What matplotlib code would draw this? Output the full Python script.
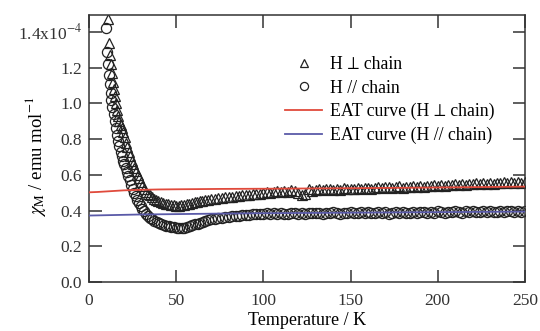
import matplotlib
matplotlib.use("Agg")
import matplotlib.pyplot as plt

plt.rcParams['font.family'] = ['Liberation Serif', 'STIXGeneral', 'DejaVu Serif']
plt.rcParams['mathtext.fontset'] = 'stix'

# H perpendicular to chain (triangles), low temperature part
T_perp_low = [11.0, 11.6, 12.1, 12.6, 13.1, 13.6, 14.2, 14.8, 15.4, 16.0,
              16.7, 17.4, 18.1, 18.8, 19.6, 20.4, 21.2, 22.0, 22.8, 23.6,
              24.4, 25.2, 26.0, 26.9, 27.8, 28.7, 29.6, 30.6, 31.6, 32.6,
              33.7, 34.8, 36.0, 37.2, 38.5, 39.8, 41.2, 42.6, 44.0, 45.5,
              47.0, 48.5, 50.0, 51.5, 53.0, 54.5, 56.0, 57.5, 59.0, 60.5,
              62.0, 63.5, 65.0, 66.5, 68.0, 70, 72, 74, 76, 78,
              80, 82, 84, 86, 88, 90, 92, 94, 96, 98, 100]
chi_perp_low = [1.47, 1.34, 1.27, 1.22, 1.17, 1.12, 1.08, 1.04, 1.00, 0.96,
                0.93, 0.90, 0.88, 0.86, 0.84, 0.81, 0.78, 0.755, 0.73, 0.705,
                0.68, 0.66, 0.64, 0.62, 0.60, 0.58, 0.56, 0.54, 0.52, 0.505,
                0.495, 0.485, 0.475, 0.467, 0.46, 0.453, 0.447, 0.442, 0.438, 0.434,
                0.431, 0.429, 0.428, 0.428, 0.43, 0.432, 0.435, 0.438, 0.442, 0.446,
                0.449, 0.452, 0.455, 0.458, 0.461, 0.464, 0.467, 0.47, 0.472, 0.474,
                0.476, 0.478, 0.48, 0.482, 0.485, 0.487, 0.489, 0.491, 0.493, 0.495, 0.497]

# H parallel to chain (circles), low temperature part
T_par_low = [9.8, 10.3, 10.8, 11.3, 11.8, 12.3, 12.8, 13.4, 14.0, 14.6,
             15.3, 16.0, 16.7, 17.4, 18.1, 18.8, 19.5, 20.2, 21.0, 21.8,
             22.6, 23.4, 24.2, 25.0, 25.9, 26.8, 27.7, 28.6, 29.6, 30.6,
             31.6, 32.7, 33.8, 35.0, 36.2, 37.4, 38.7, 40.0, 41.4, 42.8,
             44.2, 45.7, 47.2, 48.7, 50.2, 51.7, 53.2, 54.7, 56.2, 57.7,
             59.2, 60.7, 62.2, 63.7, 65.2, 66.7, 68.2, 70, 72, 74,
             76, 78, 80, 82, 84, 86, 88, 90, 92, 94, 96, 98, 100]
chi_par_low = [1.42, 1.29, 1.22, 1.16, 1.11, 1.06, 1.02, 0.98, 0.94, 0.90,
               0.86, 0.82, 0.79, 0.76, 0.73, 0.705, 0.68, 0.66, 0.64, 0.615,
               0.595, 0.57, 0.545, 0.52, 0.50, 0.48, 0.46, 0.445, 0.425, 0.41,
               0.395, 0.38, 0.37, 0.36, 0.35, 0.343, 0.336, 0.33, 0.325, 0.32,
               0.316, 0.312, 0.309, 0.306, 0.304, 0.303, 0.303, 0.305, 0.308, 0.312,
               0.317, 0.322, 0.327, 0.332, 0.337, 0.342, 0.346, 0.35, 0.354, 0.358,
               0.361, 0.364, 0.366, 0.368, 0.37, 0.372, 0.374, 0.376, 0.377, 0.378,
               0.38, 0.381, 0.382]

# high temperature part, both orientations
T_high = [102, 104, 106, 108, 110, 112, 114, 116, 118, 120,
          122, 124, 126, 128, 130, 132, 134, 136, 138, 140,
          142, 144, 146, 148, 150, 152, 154, 156, 158, 160,
          162, 164, 166, 168, 170, 172, 174, 176, 178, 180,
          182, 184, 186, 188, 190, 192, 194, 196, 198, 200,
          202, 204, 206, 208, 210, 212, 214, 216, 218, 220,
          222, 224, 226, 228, 230, 232, 234, 236, 238, 240,
          242, 244, 246, 248, 250]
chi_perp_high = [0.503, 0.498, 0.505, 0.509, 0.502, 0.511, 0.506, 0.513, 0.508, 0.497,
                 0.485, 0.49, 0.518, 0.512, 0.516, 0.52, 0.513, 0.519, 0.522, 0.515,
                 0.521, 0.517, 0.524, 0.519, 0.523, 0.518, 0.526, 0.521, 0.525, 0.528,
                 0.522, 0.527, 0.531, 0.524, 0.529, 0.533, 0.526, 0.531, 0.535, 0.528,
                 0.534, 0.53, 0.537, 0.532, 0.539, 0.534, 0.54, 0.536, 0.542, 0.538,
                 0.544, 0.539, 0.545, 0.541, 0.547, 0.543, 0.549, 0.544, 0.55, 0.546,
                 0.552, 0.547, 0.553, 0.549, 0.555, 0.55, 0.556, 0.552, 0.558, 0.553,
                 0.559, 0.555, 0.561, 0.556, 0.562]
chi_par_high = [0.384, 0.38, 0.386, 0.382, 0.387, 0.383, 0.379, 0.385, 0.388, 0.383,
                0.386, 0.381, 0.387, 0.384, 0.389, 0.385, 0.382, 0.388, 0.384, 0.39,
                0.386, 0.383, 0.389, 0.385, 0.391, 0.387, 0.384, 0.39, 0.386, 0.392,
                0.388, 0.385, 0.391, 0.387, 0.393, 0.38, 0.389, 0.392, 0.387, 0.393,
                0.389, 0.386, 0.392, 0.388, 0.394, 0.39, 0.387, 0.393, 0.389, 0.395,
                0.391, 0.388, 0.394, 0.39, 0.396, 0.392, 0.389, 0.395, 0.391, 0.397,
                0.393, 0.39, 0.396, 0.392, 0.398, 0.394, 0.391, 0.397, 0.393, 0.399,
                0.395, 0.392, 0.398, 0.394, 0.4]

# EAT fit curves
T_fit = [0, 5, 10, 15, 20, 30, 40, 50, 75, 100, 150, 200, 250]
eat_perp = [0.502, 0.504, 0.507, 0.51, 0.513, 0.516, 0.518, 0.519, 0.521, 0.522, 0.525, 0.529, 0.534]
eat_par = [0.372, 0.373, 0.374, 0.375, 0.376, 0.378, 0.379, 0.38, 0.383, 0.385, 0.388, 0.391, 0.394]

T_perp = T_perp_low + T_high
chi_perp = chi_perp_low + chi_perp_high
T_par = T_par_low + T_high
chi_par = chi_par_low + chi_par_high

fig = plt.figure(figsize=(5.4, 3.31), dpi=100)
ax = fig.add_axes([0.165, 0.148, 0.807, 0.807])

ax.plot(T_perp, chi_perp, ls='none', marker='^', ms=7.3, mfc='none', mec='#222222', mew=0.9,
        label=u'H \u22a5 chain')
ax.plot(T_par, chi_par, ls='none', marker='o', ms=7.3, mfc='none', mec='#222222', mew=0.9,
        label='H // chain')
ax.plot(T_fit, eat_perp, color='#e04a3c', lw=1.3, label=u'EAT curve (H \u22a5 chain)', zorder=3)
ax.plot(T_fit, eat_par, color='#5a5aa8', lw=1.3, label='EAT curve (H // chain)', zorder=3)

ax.set_xlim(0, 250)
ax.set_ylim(0, 1.495)
ax.set_xticks([0, 50, 100, 150, 200, 250])
ax.set_yticks([0, 0.2, 0.4, 0.6, 0.8, 1.0, 1.2, 1.4])
ax.set_yticklabels(['0.0', '0.2', '0.4', '0.6', '0.8', '1.0', '1.2', '1.4x10$^{-4}$'])
ax.tick_params(direction='in', length=9, width=1.1, labelsize=12.5, colors='#333333',
               top=True, right=True)
ax.tick_params(axis='x', pad=8)
ax.tick_params(axis='y', pad=5)
for s in ax.spines.values():
    s.set_color('#333333')
    s.set_linewidth(1.1)

ax.set_xlabel('Temperature / K', fontsize=13, labelpad=2)
ax.set_ylabel(r'$\chi_{\rm M}$ / emu mol$^{-1}$', fontsize=13.5)
ax.yaxis.set_label_coords(-0.095, 0.47)

leg = ax.legend(loc='upper left', bbox_to_anchor=(0.4495, 0.845), frameon=False, fontsize=12.8,
                handlelength=2.1, handletextpad=0.45, labelspacing=0.36, borderpad=0,
                borderaxespad=0, markerscale=0.8)

fig.savefig('out.png', dpi=100)
